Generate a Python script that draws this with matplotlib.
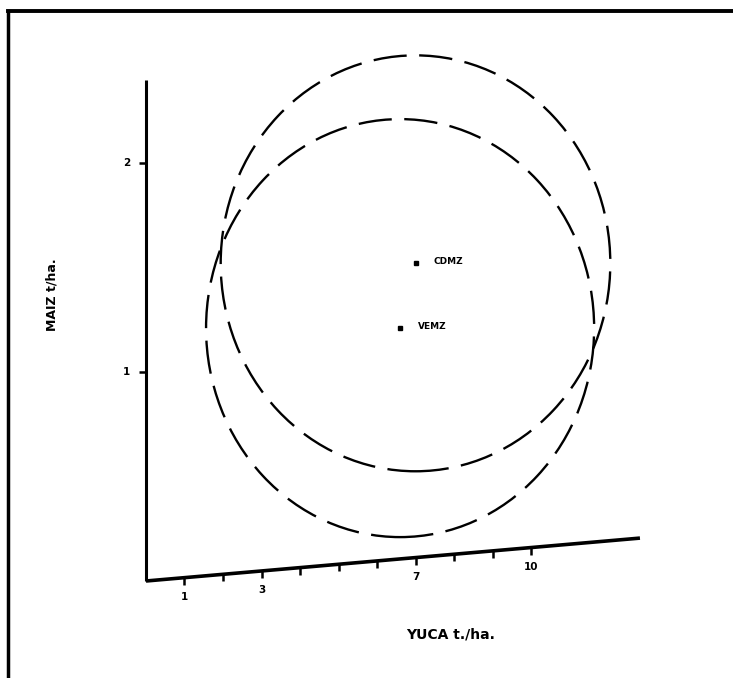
import matplotlib
matplotlib.use("Agg")
import matplotlib.pyplot as plt
from matplotlib.patches import Ellipse
from matplotlib.lines import Line2D
import matplotlib.markers as mmarkers
import numpy as np

# ---- data ----
treatments = ["CDMZ", "VEMZ"]
yuca_mean = [7.0, 6.6]            # t/ha
maiz_mean = [1.52, 1.21]          # t/ha
yuca_halfwidth = [5.06, 5.04]     # ellipse semi-axis (YUCA)
maiz_halfwidth = [0.995, 1.0]     # ellipse semi-axis (MAIZ)
x_ticks = list(range(1, 11))
x_labeled = [1, 3, 7, 10]
y_ticks = [1, 2]

# ---- layout (pixel mapping of the original drawing) ----
W, H = 733, 678
PX0, PY0 = 146, 581      # origin in pixels
UX, UY = 38.5, 209.0     # pixels per unit
RISE = 0.016             # slant of the drawn YUCA axis (MAIZ units per YUCA unit)
X_END = 12.83
Y_TOP = (PY0 - 80) / UY

plt.rcParams["lines.scale_dashes"] = False
fig = plt.figure(figsize=(W / 100, H / 100), dpi=100)
ax = fig.add_axes([0, 0, 1, 1])
ax.axis("off")
ax.set_xlim(-PX0 / UX, (W - PX0) / UX)
ax.set_ylim((PY0 - H) / UY, PY0 / UY)

# frame (top and left only)
fig.add_artist(Line2D([8 / W, 1], [1 - 11 / H, 1 - 11 / H], color="k", lw=2.8,
                      transform=fig.transFigure))
fig.add_artist(Line2D([8 / W, 8 / W], [0, 1 - 11 / H], color="k", lw=2.5,
                      transform=fig.transFigure))

# axes lines
ax.plot([0, 0], [0, Y_TOP], color="k", lw=2.2, solid_capstyle="butt")
ax.plot([0, X_END], [0, RISE * X_END], color="k", lw=2.6, solid_capstyle="butt")

# ticks
xt = np.array(x_ticks, dtype=float)
ax.plot(xt, RISE * xt, ls="none", marker=mmarkers.TICKDOWN, ms=5, mew=1.8, color="k")
ax.plot([0] * len(y_ticks), y_ticks, ls="none", marker=mmarkers.TICKLEFT, ms=5,
        mew=1.8, color="k")

tick_font = dict(fontsize=7.5, fontweight="bold", family="DejaVu Sans")
for t in x_labeled:
    ax.annotate(str(t), (t, RISE * t), xytext=(0, -14), textcoords="offset points",
                ha="center", va="center", **tick_font)
for t in y_ticks:
    ax.annotate(str(t), (0, t), xytext=(-14, 0), textcoords="offset points",
                ha="center", va="center", **tick_font)

# axis titles
fig.text(451 / W, 1 - 634 / H, "YUCA t./ha.", ha="center", va="center",
         fontsize=10, fontweight="bold")
fig.text(52 / W, 1 - 295 / H, "MAIZ t/ha.", ha="center", va="center",
         rotation=90, fontsize=9, fontweight="bold")

# ellipses and means
for name, xm, ym, ax_w, ax_h in zip(treatments, yuca_mean, maiz_mean,
                                    yuca_halfwidth, maiz_halfwidth):
    e = Ellipse((xm, ym), 2 * ax_w, 2 * ax_h, fill=False, edgecolor="k",
                lw=1.7, linestyle=(0, (24, 9)))
    ax.add_patch(e)
    ax.plot([xm], [ym], marker="s", ms=3.5, color="k", ls="none")
    ax.annotate(name, (xm, ym), xytext=(13, 1), textcoords="offset points",
                ha="left", va="center", fontsize=6.5, fontweight="bold")

fig.savefig("out.png", dpi=100, facecolor="white")
